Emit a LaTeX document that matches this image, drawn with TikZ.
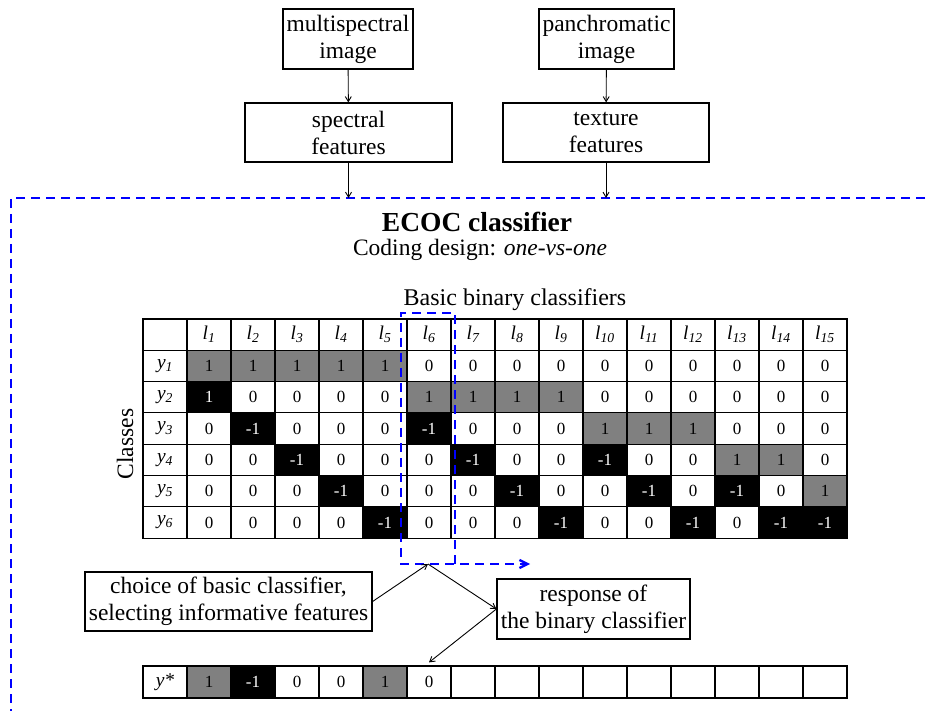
\documentclass[tikz,border=0pt]{standalone}
\usepackage{fontspec}
\setmainfont{Liberation Serif}
\usetikzlibrary{positioning}
\usetikzlibrary{arrows.meta}
\usetikzlibrary{calc}

\begin{document}
\begin{tikzpicture}[
  x=1pt, y=-1pt,
  font=\fontsize{23.5}{27}\selectfont,
  box/.style={draw, line width=1.2pt, align=center, inner sep=0pt},
  arrow/.style={-{Straight Barb[length=5pt,width=6pt]}, line width=0.9pt},
  bluedash/.style={draw=blue, line width=2.3pt, dash pattern=on 9pt off 6pt},
  cell/.style={draw, line width=1.2pt, minimum width=44pt, minimum height=31.3pt,
    inner sep=0pt, font=\fontsize{17}{19}\selectfont},
  lab/.style={font=\fontsize{19.5}{21}\selectfont\itshape},
  cellg/.style={fill=black!50},
  cellb/.style={fill=black, text=white},
  cellw/.style={fill=white}
]
\useasboundingbox (0,0) rectangle (927,711);

% Input boxes
\node[box, minimum width=130pt, minimum height=60pt] (multi) at (348,39) {multispectral\\image};
\node[box, minimum width=207pt, minimum height=59pt] (spec) at (348.5,132.5) {spectral\\features};
\node[box, minimum width=135pt, minimum height=60pt] (pan) at (606.5,39) {panchromatic\\image};
\node[box, minimum width=206pt, minimum height=59pt] (tex) at (606,132.5) {texture\\features};

% ECOC frame
\coordinate (frame) at (11,198);
\draw[bluedash] (940,198) -- (frame) -- (11,725);

\draw[arrow] (multi) -- (spec);
\draw[arrow] (pan) -- (tex);
\draw[arrow] (spec.south) -- (spec.south |- frame);
\draw[arrow] (tex.south) -- (tex.south |- frame);

\node[font=\bfseries\fontsize{27.5}{32}\selectfont] (title) at (477,222) {ECOC classifier};
\node (coding) at (480,250) {Coding design: \textit{one-vs-one}};
\node[font=\fontsize{24}{28}\selectfont] (basic) at (515,300) {Basic binary classifiers};
\node[rotate=90] (classes) at (125,444) {Classes};

% Coding matrix
\node[cell] (h-0) at (165,334.65) {};
\foreach \k in {1,...,15}
  \node[cell, lab] (h-\k) at (165+44*\k,334.65) {l\textsubscript{\k}};

\foreach \row [count=\r] in {
  {g/1,g/1,g/1,g/1,g/1,w/0,w/0,w/0,w/0,w/0,w/0,w/0,w/0,w/0,w/0},
  {b/1,w/0,w/0,w/0,w/0,g/1,g/1,g/1,g/1,w/0,w/0,w/0,w/0,w/0,w/0},
  {w/0,b/-1,w/0,w/0,w/0,b/-1,w/0,w/0,w/0,g/1,g/1,g/1,w/0,w/0,w/0},
  {w/0,w/0,b/-1,w/0,w/0,w/0,b/-1,w/0,w/0,b/-1,w/0,w/0,g/1,g/1,w/0},
  {w/0,w/0,w/0,b/-1,w/0,w/0,w/0,b/-1,w/0,w/0,b/-1,w/0,b/-1,w/0,g/1},
  {w/0,w/0,w/0,w/0,b/-1,w/0,w/0,w/0,b/-1,w/0,w/0,b/-1,w/0,b/-1,b/-1}}
{
  \node[cell, lab] (m-\r-0) at (165,334.65+31.3*\r) {y\textsubscript{\r}};
  \foreach \s/\v [count=\k] in \row
    \node[cell, cell\s] (m-\r-\k) at (165+44*\k,334.65+31.3*\r) {\v};
}

% Selected classifier
\coordinate (pick) at (428,564);
\draw[bluedash, -{Straight Barb[length=8pt,width=8pt]}]
  (455,564) -- (455,313) -- (401,313) -- (401,564) -- (530,564);

% Response row
\node[cell, lab, minimum height=32pt] (s-0) at (165,682) {y*};
\foreach \s/\v [count=\k] in {g/1,b/-1,w/0,w/0,g/1,w/0}
  \node[cell, cell\s, minimum height=32pt] (s-\k) at (165+44*\k,682) {\v};
\foreach \k in {7,...,15}
  \node[cell, minimum height=32pt] (s-\k) at (165+44*\k,682) {};

\node[box, minimum width=287pt, minimum height=59pt] (choice) at (228.5,601.5)
  {choice of basic classifier,\\selecting informative features};
\node[box, minimum width=193pt, minimum height=60pt] (resp) at (593.5,609)
  {response of\\the binary classifier};

\draw[arrow] (choice.east) -- (pick);
\draw[arrow] (pick) -- (resp.west);
\draw[arrow] (resp.west) -- ([yshift=3pt]s-6.north);

\end{tikzpicture}
\end{document}
